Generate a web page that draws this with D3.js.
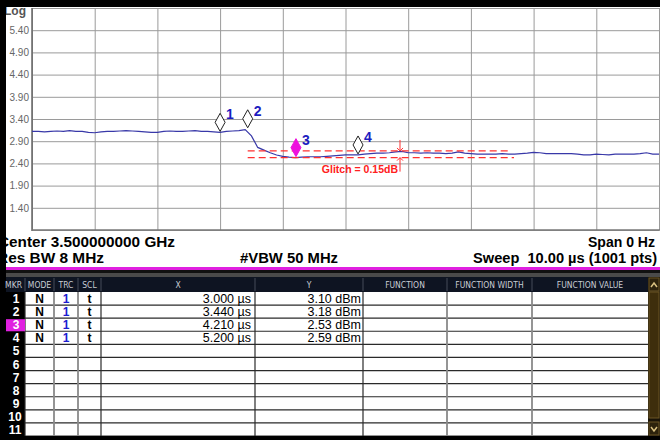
<!DOCTYPE html>
<html><head><meta charset="utf-8">
<script src="https://cdn.jsdelivr.net/npm/d3@7"></script>
<style>html,body{margin:0;padding:0;background:#fff;overflow:hidden}svg{display:block}</style>
</head><body><svg id="c" width="660" height="440"></svg>
<script>
// ---------- data ----------
const timeUs = d3.range(0, 101).map(i => i / 10);
const traceDbm = [
 3.12,3.12,3.11,3.12,3.13,3.12,3.14,3.12,3.12,3.10,
 3.09,3.11,3.12,3.12,3.13,3.14,3.13,3.12,3.11,3.10,
 3.10,3.12,3.13,3.12,3.12,3.13,3.14,3.12,3.12,3.11,
 3.10,3.12,3.13,3.14,3.16,3.02,2.76,2.70,2.64,2.59,
 2.56,2.54,2.53,2.54,2.55,2.55,2.55,2.56,2.57,2.58,
 2.59,2.59,2.59,2.61,2.62,2.63,2.63,2.64,2.66,2.67,
 2.64,2.64,2.63,2.64,2.63,2.63,2.62,2.63,2.66,2.63,
 2.62,2.61,2.61,2.61,2.61,2.62,2.61,2.61,2.62,2.63,
 2.65,2.64,2.62,2.62,2.62,2.62,2.62,2.61,2.59,2.59,
 2.61,2.60,2.59,2.61,2.61,2.61,2.61,2.62,2.64,2.61,2.61
];
const yTickLabels = ["5.40","4.90","4.40","3.90","3.40","2.90","2.40","1.90","1.40"];
const markerIds = [1,2,3,4];
const markerX = [3.000, 3.440, 4.210, 5.200];
const markerY = [3.10, 3.18, 2.53, 2.59];
const markerXText = ["3.000 µs","3.440 µs","4.210 µs","5.200 µs"];
const markerYText = ["3.10 dBm","3.18 dBm","2.53 dBm","2.59 dBm"];
const glitchLevels = [2.68, 2.53];
const glitchLabel = "Glitch = 0.15dB";
const tableHeaders = ["MKR","MODE","TRC","SCL","X","Y","FUNCTION","FUNCTION WIDTH","FUNCTION VALUE"];
const tableRows = d3.range(1, 12);
const infoLeft = ["Center 3.500000000 GHz", "Res BW 8 MHz"];
const infoMid = "#VBW 50 MHz";
const infoRight = ["Span 0 Hz", "Sweep  10.00 µs (1001 pts)"];

// ---------- layout ----------
const svg = d3.select("#c");
const PL = 32, PR = 659, PT = 8, PB = 230;
const x = d3.scaleLinear().domain([0, 10]).range([PL, PR]);
const y = d3.scaleLinear().domain([0.9, 5.9]).range([PB, PT]);
const FONT = "'Liberation Sans', Arial, sans-serif";

svg.append("rect").attr("width",660).attr("height",440).attr("fill","#fff");

// grid
const gx = svg.append("g").attr("transform",`translate(0,${PB})`)
  .call(d3.axisBottom(x).tickValues(d3.range(0,11)).tickSize(-(PB-PT)).tickFormat(""));
const gy = svg.append("g").attr("transform",`translate(${PL},0)`)
  .call(d3.axisLeft(y).tickValues(d3.range(0,11).map(i=>0.9+i*0.5)).tickSize(-(PR-PL)).tickFormat(""));
[gx,gy].forEach(g=>{g.select(".domain").remove();g.selectAll("line").attr("stroke","#9a9a9a").attr("stroke-width",1);});
// border
svg.append("line").attr("x1",PL).attr("x2",PL).attr("y1",PT).attr("y2",PB+1).attr("stroke","#666").attr("stroke-width",1.5);
svg.append("line").attr("x1",PL).attr("x2",660).attr("y1",PB).attr("y2",PB).attr("stroke","#777").attr("stroke-width",1.5);

// y labels
const yl = svg.append("g").attr("transform",`translate(${PL-2},0)`)
  .call(d3.axisLeft(y).tickValues(yTickLabels.map(Number)).tickSize(0).tickFormat(d=>d.toFixed(2)));
yl.select(".domain").remove();
yl.selectAll("text").attr("fill","#666").attr("font-family",FONT).attr("font-size",10).attr("dx",2);
svg.append("text").attr("x",26).attr("y",15).attr("text-anchor","end").attr("font-family",FONT)
  .attr("font-size",12).attr("font-weight","bold").attr("fill","#555").text("Log");

// trace
const traceData = timeUs.map((t,i)=>({t, v: traceDbm[i]}));
svg.append("path").datum(traceData)
  .attr("d", d3.line().x(d=>x(d.t)).y(d=>y(d.v)))
  .attr("fill","none").attr("stroke","#3838a8").attr("stroke-width",1.2);

// glitch dashed lines
const gStart = x(markerX[1]);
const gEnds = [510, 514];
glitchLevels.forEach((lv,i)=>{
  svg.append("line").attr("x1",gStart).attr("x2",gEnds[i]).attr("y1",y(lv)).attr("y2",y(lv))
    .attr("stroke","#ff3030").attr("stroke-width",1.3).attr("stroke-dasharray","7,4");
});
// arrows
const ax = 400;
const yU = y(glitchLevels[0]), yLo = y(glitchLevels[1]);
svg.append("line").attr("x1",ax).attr("x2",ax).attr("y1",yU-11).attr("y2",yU).attr("stroke","#ff3030").attr("stroke-width",1);
svg.append("path").attr("d",`M${ax-3},${yU-3}L${ax},${yU}L${ax+3},${yU-3}`).attr("stroke","#ff3030").attr("fill","none");
svg.append("line").attr("x1",ax).attr("x2",ax).attr("y1",yLo).attr("y2",yLo+14).attr("stroke","#ff3030").attr("stroke-width",1);
svg.append("path").attr("d",`M${ax-3},${yLo+3}L${ax},${yLo}L${ax+3},${yLo+3}`).attr("stroke","#ff3030").attr("fill","none");
svg.append("text").attr("x",398).attr("y",172.5).attr("text-anchor","end").attr("font-family",FONT)
  .attr("font-size",10.5).attr("font-weight","bold").attr("fill","#ff2020").text(glitchLabel);

// markers
markerIds.forEach((id,i)=>{
  const px = x(markerX[i]), py = y(markerY[i]);
  const active = id===3;
  const bottom = py - 1;
  svg.append("path").attr("d",`M${px},${bottom}L${px+5},${bottom-9}L${px},${bottom-18}L${px-5},${bottom-9}Z`)
    .attr("fill", active ? "#ee10dd" : "#fff").attr("stroke", active ? "#ee10dd" : "#222").attr("stroke-width",1);
  svg.append("text").attr("x",px+6).attr("y",bottom-12).attr("font-family",FONT).attr("font-size",14)
    .attr("font-weight","bold").attr("fill","#1c1cc0").text(id);
});

// left & top black frame
svg.append("rect").attr("x",0).attr("y",0).attr("width",660).attr("height",7).attr("fill","#000");
svg.append("rect").attr("x",0).attr("y",0).attr("width",6).attr("height",440).attr("fill","#000");

// info text
const info = svg.append("g").attr("font-family",FONT).attr("font-size",14).attr("font-weight","bold").attr("fill","#000");
function fitText(sel, len){ sel.attr("textLength",len).attr("lengthAdjust","spacingAndGlyphs"); return sel; }
fitText(info.append("text").attr("x",-2).attr("y",247).text(infoLeft[0]), 177);
fitText(info.append("text").attr("x",-3).attr("y",263).text(infoLeft[1]), 107);
fitText(info.append("text").attr("x",240).attr("y",263).text(infoMid), 98);
fitText(info.append("text").attr("x",588).attr("y",247).text(infoRight[0]), 67);
fitText(info.append("text").attr("x",473).attr("y",263).style("white-space","pre").text(infoRight[1]), 184);
// re-cover left strip over text
svg.append("rect").attr("x",0).attr("y",230).attr("width",6).attr("height",40).attr("fill","#000");

// separator bands
svg.append("rect").attr("x",6).attr("y",267).attr("width",654).attr("height",3).attr("fill","#e020e0");
svg.append("rect").attr("x",6).attr("y",270).attr("width",654).attr("height",3).attr("fill","#111");
svg.append("rect").attr("x",6).attr("y",273).attr("width",654).attr("height",4).attr("fill","#4a4a4a");

// table
const colEdges = [6,25,54,78,101,255,363,447,532,648];
const rowY = d3.scaleBand().domain(tableRows).range([292, 436]);
const hdrTop = 277, hdrBot = 292;
svg.append("rect").attr("x",6).attr("y",hdrTop).attr("width",642).attr("height",hdrBot-hdrTop).attr("fill","#0e1422");
svg.append("rect").attr("x",6).attr("y",hdrBot).attr("width",642).attr("height",436-hdrBot).attr("fill","#fff");
svg.append("rect").attr("x",6).attr("y",hdrBot).attr("width",19).attr("height",436-hdrBot).attr("fill","#000");
// header text
tableHeaders.forEach((h,i)=>{
  svg.append("text").attr("x",(colEdges[i]+colEdges[i+1])/2 + (i===0?-2:0)).attr("y",288).attr("text-anchor","middle")
    .attr("font-family","'DejaVu Sans Condensed','Liberation Sans Narrow',sans-serif").attr("font-size",8.5)
    .attr("fill","#c8ccd4").text(h);
});
// header separators
colEdges.slice(1,9).forEach(cx=>{
  svg.append("line").attr("x1",cx).attr("x2",cx).attr("y1",hdrTop+1).attr("y2",hdrBot-1).attr("stroke","#444b58");
});
// row lines
tableRows.forEach(r=>{
  const yb = rowY(r)+rowY.bandwidth();
  svg.append("line").attr("x1",25).attr("x2",648).attr("y1",yb).attr("y2",yb).attr("stroke","#2a2a2a").attr("stroke-width",1.2);
});
// column lines
colEdges.slice(1,9).forEach((cx,i)=>{
  const dark = (cx===101 || cx===255 || cx===363 || cx===25);
  svg.append("line").attr("x1",cx).attr("x2",cx).attr("y1",hdrBot).attr("y2",436)
    .attr("stroke", dark ? "#2a2a2a" : "#8a8a8a").attr("stroke-width", dark?1.2:1.8);
});
// MKR numbers
tableRows.forEach(r=>{
  const yy = rowY(r);
  if (r===3) svg.append("rect").attr("x",6).attr("y",yy+1).attr("width",19).attr("height",rowY.bandwidth()-1).attr("fill","#e020e0");
  svg.append("text").attr("x",r>=10?15:16).attr("y",yy+rowY.bandwidth()-2).attr("text-anchor","middle")
    .attr("font-family",FONT).attr("font-size",12).attr("font-weight","bold").attr("fill","#fff").text(r);
});
// marker rows
markerIds.forEach((id,i)=>{
  const yy = rowY(id)+rowY.bandwidth()-2;
  const t = svg.append("g").attr("font-family",FONT).attr("font-size",12).attr("font-weight","bold");
  t.append("text").attr("x",(25+54)/2).attr("y",yy).attr("text-anchor","middle").attr("fill","#000").text("N");
  t.append("text").attr("x",(54+78)/2).attr("y",yy).attr("text-anchor","middle").attr("fill","#1c1cd0").text("1");
  t.append("text").attr("x",(78+101)/2).attr("y",yy).attr("text-anchor","middle").attr("fill","#000").text("t");
  t.append("text").attr("x",251).attr("y",yy).attr("text-anchor","end").attr("fill","#000").attr("font-weight","normal").attr("font-size",12.5).text(markerXText[i]);
  t.append("text").attr("x",361).attr("y",yy).attr("text-anchor","end").attr("fill","#000").attr("font-weight","normal").attr("font-size",12.5).text(markerYText[i]);
});
// scrollbar
svg.append("rect").attr("x",648).attr("y",277).attr("width",12).attr("height",159).attr("fill","#1a1408");
svg.append("rect").attr("x",649).attr("y",292).attr("width",10).attr("height",126).attr("fill","#3e2e0c").attr("stroke","#6a5424");
svg.append("rect").attr("x",649).attr("y",278).attr("width",10).attr("height",13).attr("fill","#2c220c").attr("stroke","#6a5424");
svg.append("rect").attr("x",649).attr("y",422).attr("width",10).attr("height",13).attr("fill","#2c220c").attr("stroke","#6a5424");
svg.append("path").attr("d","M651,287L654,283L657,287").attr("fill","none").attr("stroke","#d8c080").attr("stroke-width",1.5);
svg.append("path").attr("d","M651,427L654,431L657,427").attr("fill","none").attr("stroke","#d8c080").attr("stroke-width",1.5);
// bottom black
svg.append("rect").attr("x",0).attr("y",436).attr("width",660).attr("height",4).attr("fill","#000");
</script></body></html>
